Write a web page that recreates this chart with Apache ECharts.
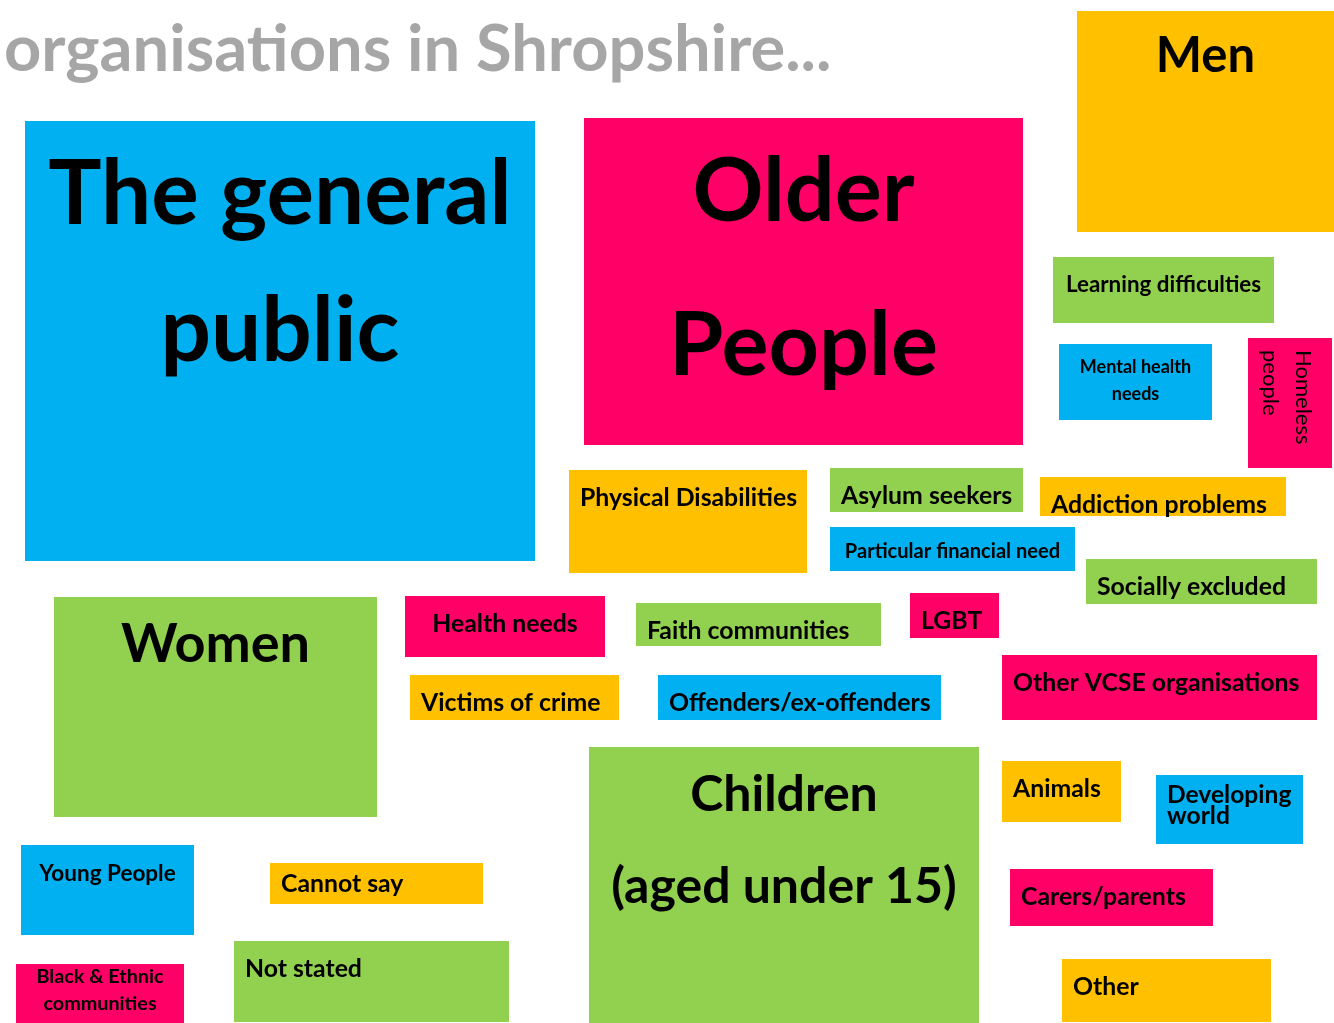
<!DOCTYPE html>
<html>
<head>
<meta charset="utf-8">
<title>organisations in Shropshire</title>
<script src="https://cdn.jsdelivr.net/npm/echarts@6/dist/echarts.min.js"></script>
<style>
  html, body { margin: 0; padding: 0; background: #fff; }
  #main { width: 1334px; height: 1023px; }
</style>
</head>
<body>
<div id="main"></div>
<script>
// groups served, one entry per box (layout units = the slide, 1334 x 1023)
var labels = [
  "The general\npublic", "Older\nPeople", "Men", "Learning difficulties",
  "Mental health\nneeds", "Homeless\npeople", "Physical Disabilities",
  "Asylum seekers", "Addiction problems", "Particular financial need",
  "Socially excluded", "Women", "Health needs", "Faith communities", "LGBT",
  "Other VCSE organisations", "Victims of crime", "Offenders/ex-offenders",
  "Children\n(aged under 15)", "Animals", "Developing\nworld", "Young People",
  "Cannot say", "Carers/parents", "Black & Ethnic\ncommunities", "Not stated", "Other"
];
var boxLeft   = [25, 584, 1077, 1053, 1059, 1248, 569, 830, 1040, 830, 1086, 54, 405, 636, 910, 1002, 410, 658, 589, 1002, 1156, 21, 270, 1010, 16, 234, 1062];
var boxTop    = [121, 118, 11, 257, 344, 338, 470, 468, 477, 527, 559, 597, 596, 603, 593, 655, 675, 675, 747, 761, 775, 845, 863, 869, 964, 941, 959];
var boxRight  = [535, 1023, 1334, 1274, 1212, 1332, 807, 1023, 1286, 1075, 1317, 377, 605, 881, 999, 1317, 619, 941, 979, 1121, 1303, 194, 483, 1213, 184, 509, 1271];
var boxBottom = [561, 445, 232, 323, 420, 468, 573, 512, 516, 571, 604, 817, 657, 646, 638, 720, 720, 720, 1023, 822, 844, 935, 904, 926, 1023, 1022, 1022];

// styles
var B = '#00b0f0', P = '#ff0066', O = '#ffc000', G = '#92d050';
var fills = [B, P, O, G, B, P, O, G, O, B, G, G, P, G, P, P, O, B, G, O, B, B, O, P, P, G, O];
var fontSizes = [89, 88, 49, 22.4, 18, 22, 24.8, 24.8, 24.8, 20.1, 24.8, 54, 24.8, 24.8, 24.8, 24.8, 24.8, 24.8, 50, 24.8, 24.6, 22.5, 24.8, 24.8, 19.8, 24.8, 24.8];
var aligns = ['center', 'center', 'center', 'center', 'center', 'rotate', 'left', 'left', 'left', 'center',
  'left', 'center', 'center', 'left', 'left', 'left', 'left', 'left', 'center', 'left', 'left',
  'center', 'left', 'left', 'center', 'left', 'left'];
var firstLine = [74, 75, 45, 27.5, 23.5, 55, 28, 28, 28.5, 24.5, 28, 48, 28.5, 28, 28.5, 28, 28.5, 28.5, 47.5, 28, 20.5, 29, 21, 28.5, 13, 28, 28.5];
var lineGap = [137, 154, 0, 0, 27, 33, 0, 0, 0, 0, 0, 0, 0, 0, 0, 0, 0, 0, 92, 0, 21, 0, 0, 0, 27, 0, 0];
var FONT = 'Lato';

var data = labels.map(function (l, i) {
  return [boxLeft[i], boxTop[i], boxRight[i], boxBottom[i]];
});

var chart = echarts.init(document.getElementById('main'));

function renderItem(params, api) {
  var i = params.dataIndex;
  var p0 = api.coord([api.value(0), api.value(1)]);
  var p1 = api.coord([api.value(2), api.value(3)]);
  var children = [{
    type: 'rect',
    shape: { x: p0[0], y: p0[1], width: p1[0] - p0[0], height: p1[1] - p0[1] },
    style: { fill: fills[i] }
  }];
  var lines = labels[i].split('\n');
  lines.forEach(function (line, j) {
    var x, y, align = 'center', rot = 0;
    if (aligns[i] === 'rotate') {
      // text turned a quarter clockwise, next line to the left
      x = p0[0] + firstLine[i] - j * lineGap[i];
      y = p0[1] + 12;
      align = 'left';
      rot = -Math.PI / 2;
    } else {
      y = p0[1] + firstLine[i] + j * lineGap[i];
      if (aligns[i] === 'left') { x = p0[0] + 11; align = 'left'; }
      else { x = (p0[0] + p1[0]) / 2; }
    }
    children.push({
      type: 'text',
      x: x, y: y, rotation: rot,
      style: {
        text: line,
        fill: '#000',
        font: (aligns[i] === 'rotate' ? 'normal ' : 'bold ') + fontSizes[i] + 'px ' + FONT,
        align: align,
        verticalAlign: 'middle'
      }
    });
  });
  return { type: 'group', children: children };
}

chart.setOption({
  backgroundColor: '#fff',
  animation: false,
  title: {
    text: 'organisations in Shropshire...',
    left: 4,
    top: 18,
    padding: 0,
    textStyle: { fontFamily: FONT, fontSize: 65, fontWeight: 'bold', color: '#a6a6a6' }
  },
  grid: { left: 0, right: 0, top: 0, bottom: 0 },
  xAxis: { type: 'value', min: 0, max: 1334, show: false },
  yAxis: { type: 'value', min: 0, max: 1023, inverse: true, show: false },
  series: [{
    type: 'custom',
    renderItem: renderItem,
    encode: { x: [0, 2], y: [1, 3] },
    data: data
  }]
});
</script>
</body>
</html>
